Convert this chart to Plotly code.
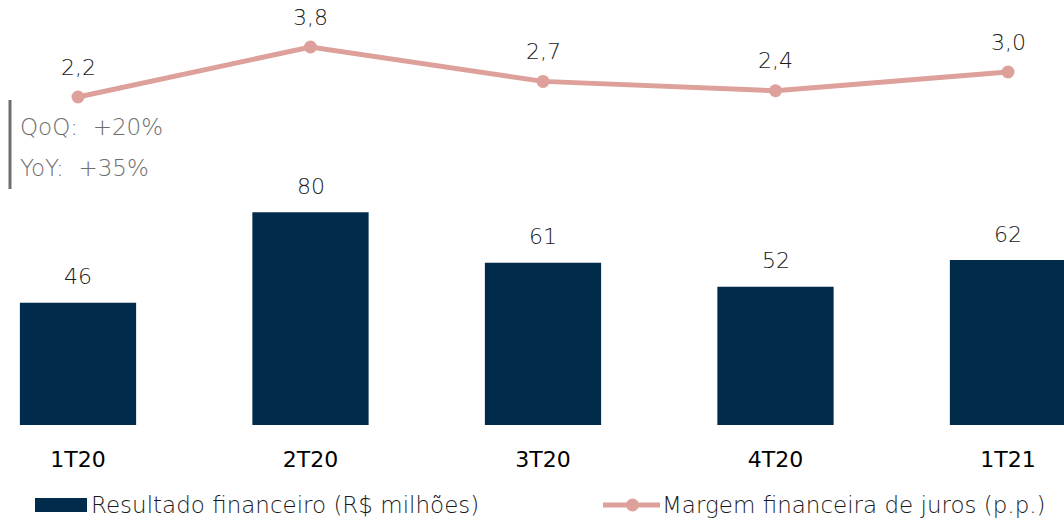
import plotly.graph_objects as go

categories = ["1T20", "2T20", "3T20", "4T20", "1T21"]
resultado = [46, 80, 61, 52, 62]
margem = [2.2, 3.8, 2.7, 2.4, 3.0]
qoq_label = "QoQ:  +20%"
yoy_label = "YoY:  +35%"
bar_name = "Resultado financeiro (R$ milhões)"
line_name = "Margem financeira de juros (p.p.)"

BAR = "#002B4A"
LINE = "#DDA09B"
GRAY = "#6E6E70"
TXT = "#1A1A1A"
FONT = "DejaVu Sans"
W, H = 1064, 522
PLOT_H = 425

def px_x(p):
    return p / W

def px_y(p):
    return 1 - p / PLOT_H

fig = go.Figure()
fig.add_trace(go.Bar(
    x=categories, y=resultado, name=bar_name,
    marker=dict(color=BAR, line=dict(width=0)), width=0.5,
    showlegend=False, hoverinfo="skip",
))
fig.add_trace(go.Scatter(
    x=categories, y=margem, name=line_name,
    mode="lines+markers", yaxis="y2",
    line=dict(color=LINE, width=5), marker=dict(color=LINE, size=13),
    cliponaxis=False, showlegend=False, hoverinfo="skip",
))
for c, v in zip(categories, resultado):
    fig.add_annotation(x=c, y=v, yref="y", text=str(v),
                       showarrow=False, yshift=26, yanchor="middle",
                       font=dict(size=22, color=TXT, family=FONT, weight=200))
for c, v in zip(categories, margem):
    fig.add_annotation(x=c, y=v, yref="y2", text=f"{v:.1f}".replace(".", ","),
                       showarrow=False, yshift=30, yanchor="middle",
                       font=dict(size=22, color=TXT, family=FONT, weight=200))

# QoQ / YoY box
fig.add_shape(type="line", xref="paper", yref="paper",
              x0=px_x(10), x1=px_x(10), y0=px_y(100), y1=px_y(189),
              line=dict(color=GRAY, width=3))
fig.add_annotation(xref="paper", yref="paper", x=px_x(18), y=px_y(127),
                   xanchor="left", yanchor="middle", showarrow=False,
                   text=qoq_label, font=dict(size=23, color=GRAY, family=FONT, weight=300))
fig.add_annotation(xref="paper", yref="paper", x=px_x(18), y=px_y(168),
                   xanchor="left", yanchor="middle", showarrow=False,
                   text=yoy_label, font=dict(size=23, color=GRAY, family=FONT, weight=300))

# Manual legend
fig.add_shape(type="rect", xref="paper", yref="paper",
              x0=px_x(35), x1=px_x(87), y0=px_y(498), y1=px_y(512),
              fillcolor=BAR, line=dict(width=0))
fig.add_annotation(xref="paper", yref="paper", x=px_x(89), y=px_y(505),
                   xanchor="left", yanchor="middle", showarrow=False,
                   text=bar_name, font=dict(size=23, color=TXT, family=FONT, weight=200))
fig.add_shape(type="line", xref="paper", yref="paper",
              x0=px_x(603), x1=px_x(660), y0=px_y(505), y1=px_y(505),
              line=dict(color=LINE, width=5))
fig.add_shape(type="circle", xref="paper", yref="paper",
              x0=px_x(626), x1=px_x(639), y0=px_y(498.5), y1=px_y(511.5),
              fillcolor=LINE, line=dict(width=0))
fig.add_annotation(xref="paper", yref="paper", x=px_x(660), y=px_y(505),
                   xanchor="left", yanchor="middle", showarrow=False,
                   text=line_name, font=dict(size=23, color=TXT, family=FONT, weight=200))

fig.update_layout(
    width=W, height=H,
    margin=dict(l=0, r=0, t=0, b=H-PLOT_H, pad=0, autoexpand=False),
    paper_bgcolor="white", plot_bgcolor="white",
    font=dict(family=FONT, color=TXT),
    showlegend=False,
    xaxis=dict(range=[-78/232.5, (1064-78)/232.5], showgrid=False, zeroline=False,
               showline=False, ticks="", ticklabelstandoff=19, automargin=False,
               tickfont=dict(size=22, color="#000000", family=FONT, weight=400)),
    yaxis=dict(range=[0, PLOT_H/2.66], visible=False, showgrid=False),
    yaxis2=dict(range=[(165.75-PLOT_H)/31.25, 165.75/31.25], overlaying="y",
                visible=False, showgrid=False),
)

fig.write_html("out.html", config={"displayModeBar": False},
               post_script="document.body.style.margin='0';document.body.style.overflow='hidden';")
